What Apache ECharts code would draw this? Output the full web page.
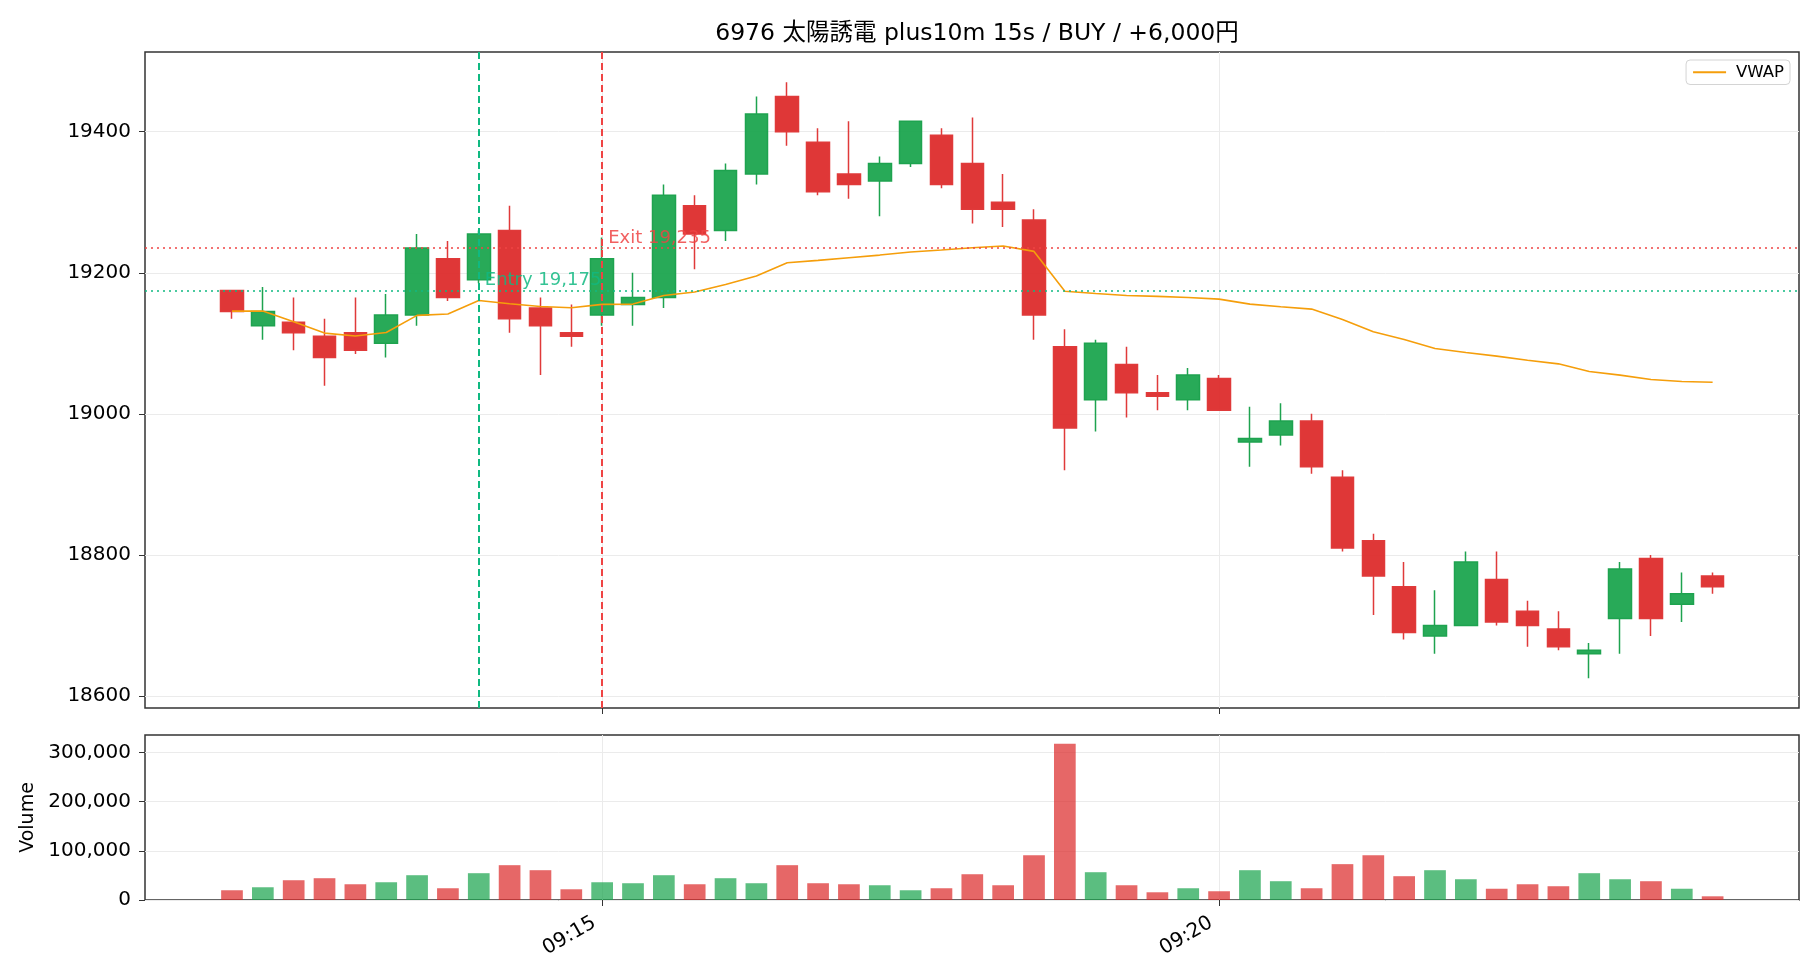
<!DOCTYPE html>
<html>
<head>
<meta charset="utf-8">
<script src="https://cdn.jsdelivr.net/npm/echarts@6/dist/echarts.min.js"></script>
<style>
    html, body {margin: 0; background: #fff;}
    #chart {width: 1820px; height: 980px;}
</style>
</head>
<body>
<div id="chart"></div>
<script>
// 15s bars, 09:12:00 - 09:24:00
var times = [
    '09:12:00', '09:12:15', '09:12:30', '09:12:45',
    '09:13:00', '09:13:15', '09:13:30', '09:13:45',
    '09:14:00', '09:14:15', '09:14:30', '09:14:45',
    '09:15:00', '09:15:15', '09:15:30', '09:15:45',
    '09:16:00', '09:16:15', '09:16:30', '09:16:45',
    '09:17:00', '09:17:15', '09:17:30', '09:17:45',
    '09:18:00', '09:18:15', '09:18:30', '09:18:45',
    '09:19:00', '09:19:15', '09:19:30', '09:19:45',
    '09:20:00', '09:20:15', '09:20:30', '09:20:45',
    '09:21:00', '09:21:15', '09:21:30', '09:21:45',
    '09:22:00', '09:22:15', '09:22:30', '09:22:45',
    '09:23:00', '09:23:15', '09:23:30', '09:23:45',
    '09:24:00'
];

var openP = [19175, 19125, 19130, 19110, 19115, 19100, 19140, 19220, 19190, 19260, 19150, 19115,
    19140, 19155, 19165, 19295, 19260, 19340, 19450, 19385, 19340, 19330, 19355, 19395,
    19355, 19300, 19275, 19095, 19020, 19070, 19030, 19020, 19050, 18960, 18970, 18990,
    18910, 18820, 18755, 18685, 18700, 18765, 18720, 18695, 18660, 18710, 18795, 18730, 18770];
var closeP = [19145, 19145, 19115, 19080, 19090, 19140, 19235, 19165, 19255, 19135, 19125, 19110,
    19220, 19165, 19310, 19255, 19345, 19425, 19400, 19315, 19325, 19355, 19415, 19325,
    19290, 19290, 19140, 18980, 19100, 19030, 19025, 19055, 19005, 18965, 18990, 18925,
    18810, 18770, 18690, 18700, 18790, 18705, 18700, 18670, 18665, 18780, 18710, 18745, 18755];
var lowP = [19135, 19105, 19090, 19040, 19085, 19080, 19125, 19160, 19185, 19115, 19055, 19095,
    19125, 19125, 19150, 19205, 19245, 19325, 19380, 19310, 19305, 19280, 19350, 19320,
    19270, 19265, 19105, 18920, 18975, 18995, 19005, 19005, 19005, 18925, 18955, 18915,
    18805, 18715, 18680, 18660, 18700, 18700, 18670, 18665, 18625, 18660, 18685, 18705, 18745];
var highP = [19175, 19180, 19165, 19135, 19165, 19170, 19255, 19245, 19260, 19295, 19165, 19155,
    19250, 19200, 19325, 19310, 19355, 19450, 19470, 19405, 19415, 19365, 19415, 19405,
    19420, 19340, 19290, 19120, 19105, 19095, 19055, 19065, 19055, 19010, 19015, 19000,
    18920, 18830, 18790, 18750, 18805, 18805, 18735, 18720, 18675, 18790, 18800, 18775, 18775];

var vwap = [19145.7, 19145.7, 19130.6, 19114.5, 19110.3, 19115.4, 19139.6, 19141.5, 19160.8, 19156.1,
    19152.3, 19150.4, 19155.2, 19155.6, 19167.9, 19172.7, 19183.5, 19195.4, 19214.3, 19217.6,
    19221.4, 19225.1, 19229.4, 19232.2, 19235.5, 19237.9, 19230.3, 19173.9, 19170.7, 19167.9,
    19166.5, 19165.0, 19162.7, 19155.6, 19151.8, 19148.5, 19133.8, 19116.3, 19105.5, 19092.7,
    19087.0, 19081.8, 19076.1, 19070.9, 19060.1, 19054.9, 19048.7, 19045.9, 19044.9];

var volume = [19800, 25900, 40200, 44300, 32000, 36100, 50400, 23900, 54500, 70800, 60600, 21800,
    36100, 34100, 50400, 32000, 44300, 34100, 70800, 34100, 32000, 30000, 19800, 23900,
    52400, 30000, 91200, 317800, 56500, 30000, 15700, 23900, 17800, 60600, 38200, 23900,
    72900, 91200, 48400, 60600, 42200, 22900, 32000, 28000, 54500, 42200, 38200, 22900, 7500];

var entryIdx = 8, entryPrice = 19175;
var exitIdx = 12, exitPrice = 19235;

var timeTicks = [12, 32];
var priceTicks = [18600, 18800, 19000, 19200, 19400];
var volumeTicks = [0, 100000, 200000, 300000];

var FONT = '"DejaVu Sans", "Noto Sans CJK JP", sans-serif';

var candles = times.map(function (t, i) {
    return [i, openP[i], closeP[i], lowP[i], highP[i]];
});
var vwapData = vwap.map(function (v, i) { return [i, v]; });
var volData = volume.map(function (v, i) {
    return {
        value: [i, v],
        itemStyle: {color: closeP[i] >= openP[i] ? 'rgba(22,163,74,0.7)' : 'rgba(220,38,38,0.7)'}
    };
});

var chart = echarts.init(document.getElementById('chart'), null, {renderer: 'canvas'});

var gridLine = {show: true, lineStyle: {color: '#ebebeb', width: 1}};
var tickStyle = {lineStyle: {color: '#333', width: 1}, length: 6};
var noLine = {show: false, onZero: false};

chart.setOption({
    animation: false,
    backgroundColor: '#fff',
    textStyle: {fontFamily: FONT},
    title: {
        text: '6976 太陽誘電 plus10m 15s / BUY / +6,000円',
        left: 972, top: 17, textAlign: 'center',
        textStyle: {fontSize: 23.5, fontWeight: 'normal', color: '#000', fontFamily: FONT}
    },
    legend: {
        data: ['VWAP'], right: 30, top: 60,
        icon: 'rect', itemWidth: 33, itemHeight: 2, itemGap: 0,
        padding: [4, 6, 4, 7], borderColor: '#d4d4d4', borderWidth: 1, borderRadius: 4,
        backgroundColor: '#fff',
        textStyle: {fontSize: 16.5, color: '#000', fontFamily: FONT, padding: [0, 0, 0, 5]}
    },
    grid: [
        {left: 145, right: 21, top: 52, height: 656, show: true, borderColor: '#333', borderWidth: 1.5},
        {left: 145, right: 21, top: 735, height: 165, show: true, borderColor: '#333', borderWidth: 1.5}
    ],
    xAxis: [
        {
            type: 'value', gridIndex: 0, min: -2.82, max: 50.8,
            axisLine: noLine,
            axisTick: Object.assign({customValues: timeTicks}, tickStyle),
            axisLabel: {show: false, customValues: timeTicks},
            splitLine: gridLine
        },
        {
            type: 'value', gridIndex: 1, min: -2.82, max: 50.8,
            axisLine: noLine,
            axisTick: Object.assign({customValues: timeTicks}, tickStyle),
            axisLabel: {
                customValues: timeTicks, rotate: 30, margin: 17, padding: [0, 9, 0, 0],
                fontSize: 20, color: '#000', fontFamily: FONT,
                formatter: function (v) { return times[Math.round(v)].slice(0, 5); }
            },
            splitLine: gridLine
        }
    ],
    yAxis: [
        {
            type: 'value', gridIndex: 0, min: 18583, max: 19513,
            axisLine: noLine,
            axisTick: Object.assign({customValues: priceTicks}, tickStyle),
            axisLabel: {
                customValues: priceTicks, fontSize: 20, color: '#000', margin: 14, fontFamily: FONT,
                formatter: function (v) { return String(v); }
            },
            splitLine: gridLine
        },
        {
            type: 'value', gridIndex: 1, min: 0, max: 335500,
            name: 'Volume', nameLocation: 'middle', nameGap: 104,
            nameTextStyle: {fontSize: 19, color: '#000', fontFamily: FONT},
            axisLine: noLine,
            axisTick: Object.assign({customValues: volumeTicks}, tickStyle),
            axisLabel: {
                customValues: volumeTicks, fontSize: 20, color: '#000', margin: 14, fontFamily: FONT,
                formatter: function (v) { return v.toLocaleString('en-US'); }
            },
            splitLine: gridLine
        }
    ],
    series: [
        {
            name: 'Price', type: 'candlestick',
            xAxisIndex: 0, yAxisIndex: 0,
            data: candles,
            encode: {x: 0, y: [1, 2, 3, 4]},
            barWidth: 23,
            itemStyle: {
                color: 'rgba(22,163,74,0.92)', color0: 'rgba(220,38,38,0.92)',
                borderColor: '#1ea34f', borderColor0: '#e03a3a', borderWidth: 1.5
            }
        },
        {
            name: 'VWAP', type: 'line',
            xAxisIndex: 0, yAxisIndex: 0,
            data: vwapData,
            symbol: 'none',
            lineStyle: {color: '#f59e0b', width: 1.6},
            itemStyle: {color: '#f59e0b'},
            z: 3,
            markLine: {
                silent: true, symbol: ['none', 'none'],
                label: {show: false},
                data: [
                    {yAxis: entryPrice, lineStyle: {color: '#10b981', type: [2, 4], width: 1.6}},
                    {yAxis: exitPrice, lineStyle: {color: '#ef4444', type: [2, 4], width: 1.6}},
                    {xAxis: entryIdx, lineStyle: {color: '#10b981', type: [7, 4], width: 2}},
                    {xAxis: exitIdx, lineStyle: {color: '#ef4444', type: [7, 4], width: 2}}
                ]
            },
            markPoint: {
                silent: true, symbol: 'circle', symbolSize: 0,
                data: [
                    {
                        coord: [entryIdx, entryPrice],
                        label: {
                            show: true, position: 'right', distance: 6, offset: [0, -10],
                            formatter: 'Entry 19,175', fontSize: 18,
                            color: 'rgba(16,185,129,0.85)', fontFamily: FONT
                        }
                    },
                    {
                        coord: [exitIdx, exitPrice],
                        label: {
                            show: true, position: 'right', distance: 6, offset: [0, -10],
                            formatter: 'Exit 19,235', fontSize: 18,
                            color: 'rgba(239,68,68,0.85)', fontFamily: FONT
                        }
                    }
                ]
            }
        },
        {
            name: 'Volume', type: 'bar',
            xAxisIndex: 1, yAxisIndex: 1,
            data: volData,
            barWidth: 21.7
        }
    ]
});
</script>
</body>
</html>
